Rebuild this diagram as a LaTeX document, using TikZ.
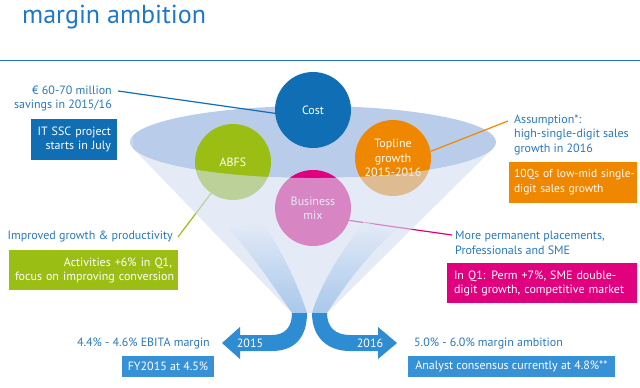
\documentclass[tikz,border=0pt]{standalone}
\usepackage{fontspec}
\setmainfont{PT Sans}
\definecolor{titleblue}{RGB}{30,120,200}
\definecolor{txtblue}{RGB}{40,120,190}
\definecolor{darkblue}{RGB}{15,110,180}
\definecolor{boxblue}{RGB}{55,145,215}
\definecolor{arrowblue}{RGB}{45,140,210}
\definecolor{limec}{RGB}{155,190,20}
\definecolor{orangec}{RGB}{240,135,0}
\definecolor{magentac}{RGB}{225,0,125}
\definecolor{ellc}{RGB}{185,205,235}
\definecolor{conec}{RGB}{210,222,242}
\definecolor{conevis}{RGB}{228,235,247}
\definecolor{streamc}{RGB}{150,188,232}
\begin{document}
\begin{tikzpicture}[x=1pt,y=-1pt,
  lbl/.style={text=txtblue, font=\fontsize{12}{14.5}\selectfont, inner sep=0pt},
  boxw/.style={text=white, font=\fontsize{12}{14}\selectfont, inner xsep=6pt, inner ysep=0pt},
  bubble/.style={circle, minimum size=76pt, inner sep=0pt, text=white, align=center, font=\fontsize{12}{14.5}\selectfont},
  conn/.style={line width=1.2pt},
]
\useasboundingbox (0,0) rectangle (640,388);
% title and rule
\node[anchor=base west, text=titleblue, font=\fontsize{26}{30}\selectfont, inner sep=0pt] (title) at (22,23.5) {margin ambition};
\coordinate (ruleL) at (0,60.5);
\coordinate (ruleR) at (640,60.5);
\draw[txtblue, line width=1.5pt] (ruleL) -- (ruleR);
% funnel top
\fill[ellc] (313,142) ellipse [x radius=183pt, y radius=36pt];
% bubbles
\node[bubble, fill=darkblue] (cost) at (313,110) {Cost};
\node[bubble, fill=limec] (abfs) at (233,162) {ABFS};
\node[bubble, fill=orangec] (top) at (393,158) {Topline\\growth\\2015-2016};
\node[bubble, fill=magentac] (bmix) at (313,208) {Business\\mix};
% connectors
\coordinate (costend) at (118,91);
\coordinate (topend) at (508,121);
\coordinate (abfsend) at (178,237);
\coordinate (bmixend) at (452,235);
\draw[conn, darkblue] (costend) -- (cost.185);
\draw[conn, orangec] (top.10) -- (topend);
\draw[conn, limec] (abfs.235) -- (abfsend);
\draw[conn, magentac] (bmix.-19) -- (bmixend);
% funnel body overlay
\fill[conec, opacity=0.6] (133.2,148.7) -- (292,313) -- (327,313) -- (492.5,149)
  arc[start angle=-11.16, end angle=-190.76, x radius=183pt, y radius=36pt] -- cycle;
% streams
\shade[top color=conevis, bottom color=streamc, opacity=0.75]
  (228,228) .. controls (255,258) and (276,290) .. (292,313) -- (307,313)
  .. controls (298,285) and (282,250) .. (262,222) -- cycle;
\shade[top color=conevis, bottom color=streamc, opacity=0.75]
  (364,222) .. controls (342,250) and (320,285) .. (312,313) -- (327,313)
  .. controls (342,290) and (364,258) .. (396,230) -- cycle;
% arrows
\fill[arrowblue] (240,335) -- (240,327) -- (222,343) -- (240,359) -- (240,351) -- (272,351)
  .. controls (295,351) and (307,337) .. (307,313) -- (292,313)
  .. controls (292,327) and (285,335) .. (272,335) -- cycle;
\fill[arrowblue] (378,335) -- (378,327) -- (397,343) -- (378,359) -- (378,351) -- (350,351)
  .. controls (327,351) and (312,337) .. (312,313) -- (327,313)
  .. controls (327,327) and (335,335) .. (350,335) -- cycle;
\node[text=white, font=\fontsize{12}{14}\selectfont, inner sep=0pt] (y15) at (250,343) {2015};
\node[text=white, font=\fontsize{12}{14}\selectfont, inner sep=0pt] (y16) at (370,343) {2016};
% labels
\node[lbl, align=right, anchor=east] (costlbl) at (112,98.5) {€ 60-70 million\\savings in 2015/16};
\node[boxw, fill=darkblue, minimum height=41pt, text width=74pt, align=right] (itbox) at (74,139.5) {\mbox{IT SSC project}\\\mbox{starts in July}};
\node[lbl, align=left, anchor=west] (asslbl) at (514,134.5) {Assumption*:\\high-single-digit sales\\growth in 2016};
\node[boxw, fill=orangec, minimum height=41pt, text width=118pt, inner xsep=5pt, align=left, font=\fontsize{11.5}{15}\selectfont] (orbox) at (573,182.5) {\mbox{10Qs of low-mid single-}\\\mbox{digit sales growth}};
\node[lbl, anchor=east] (implbl) at (173,236) {Improved growth \& productivity};
\node[boxw, fill=limec, minimum height=40pt, text width=157pt, align=right] (grbox) at (93.5,270) {\mbox{Activities +6\% in Q1,}\\\mbox{focus on improving conversion}};
\node[lbl, align=left, anchor=west] (morelbl) at (455,243) {More permanent placements,\\Professionals and SME};
\node[boxw, fill=magentac, minimum height=40pt, text width=176pt, inner xsep=7pt, align=left] (mgbox) at (542,283) {\mbox{In Q1: Perm +7\%, SME double-}\\\mbox{digit growth, competitive market}};
\node[lbl, anchor=east] (ebita) at (210,343) {4.4\% - 4.6\% EBITA margin};
\node[boxw, fill=boxblue, minimum height=21pt, minimum width=92pt, align=center] (fybox) at (168,366.5) {FY2015 at 4.5\%};
\node[lbl, anchor=west] (amb) at (414,343) {5.0\% - 6.0\% margin ambition};
\node[boxw, fill=boxblue, minimum height=21pt, minimum width=207pt, align=center] (anbox) at (511.5,366.5) {Analyst consensus currently at 4.8\%**};
\end{tikzpicture}
\end{document}
